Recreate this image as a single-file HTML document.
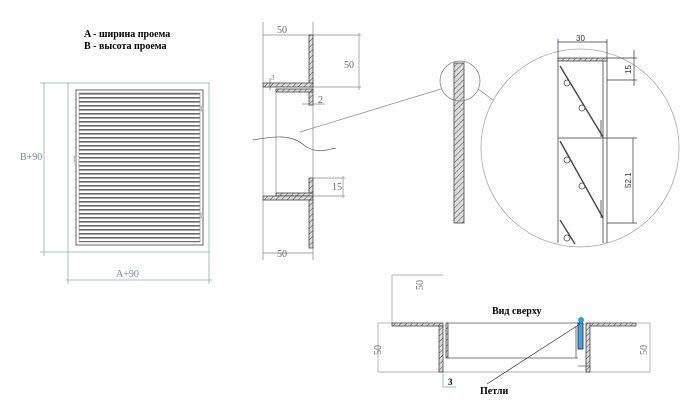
<!DOCTYPE html>
<html><head><meta charset="utf-8"><style>html,body{margin:0;padding:0;background:#fff}svg{display:block}</style></head><body>
<svg width="700" height="404" viewBox="0 0 700 404" xmlns="http://www.w3.org/2000/svg" font-family="Liberation Serif, serif">
<defs>
<pattern id="sl" x="0" y="93" width="10" height="4" patternUnits="userSpaceOnUse"><rect width="10" height="4" fill="#fff"/><rect y="0" width="10" height="1.6" fill="#666"/></pattern>
<pattern id="ht" width="4" height="4" patternUnits="userSpaceOnUse" patternTransform="rotate(45)"><rect width="4" height="4" fill="#ddd"/><line x1="0" y1="0" x2="0" y2="4" stroke="#444" stroke-width="1"/></pattern>
</defs>
<text x="84" y="37" font-size="10" font-weight="bold">A - ширина проема</text>
<text x="84" y="49" font-size="10" font-weight="bold">B - высота проема</text>
<g fill="none" stroke="#9aa" stroke-width="0.8">
<line x1="44" y1="83" x2="44" y2="256"/><line x1="40" y1="83" x2="210" y2="83"/><line x1="40" y1="252" x2="210" y2="252"/>
<line x1="68" y1="83" x2="68" y2="284"/><line x1="209" y1="83" x2="209" y2="284"/><line x1="66" y1="280" x2="212" y2="280"/>
</g>
<rect x="76" y="90" width="127" height="155" fill="#fff" stroke="#666" stroke-width="1"/>
<rect x="79" y="93" width="121" height="149" fill="url(#sl)" stroke="#888" stroke-width="0.6"/>
<rect x="201" y="106" width="2" height="5" fill="#ccc" stroke="#888" stroke-width="0.4"/>
<rect x="201" y="213" width="2" height="5" fill="#ccc" stroke="#888" stroke-width="0.4"/>
<rect x="74" y="156" width="2" height="6" fill="#ccc" stroke="#888" stroke-width="0.4"/>
<text x="20" y="160" font-size="10" fill="#6d8aa8">B+90</text>
<text x="116" y="277" font-size="10" fill="#6d8aa8">A+90</text>
<g fill="none" stroke="#888" stroke-width="0.7">
<line x1="263" y1="22" x2="263" y2="260"/><line x1="313" y1="22" x2="313" y2="260"/>
<line x1="263" y1="35" x2="313" y2="35"/>
<line x1="313" y1="35" x2="361" y2="35"/><line x1="313" y1="87" x2="361" y2="87"/><line x1="359" y1="33" x2="359" y2="90"/>
<line x1="263" y1="253" x2="313" y2="253"/>
<line x1="276" y1="92" x2="276" y2="194"/>
<line x1="313" y1="178" x2="345" y2="178"/><line x1="313" y1="196" x2="345" y2="196"/><line x1="343" y1="176" x2="343" y2="198"/>
<line x1="302" y1="104" x2="325" y2="104"/>
<line x1="300" y1="132" x2="441" y2="89"/>
<path d="M253 140 C275 136 292 134 305 146 C318 154 325 150 336 148" stroke="#555"/>
</g>
<g fill="url(#ht)" stroke="#444" stroke-width="0.8">
<rect x="309" y="35" width="4" height="52"/><rect x="263" y="83" width="50" height="4"/>
<rect x="276" y="89" width="37" height="3"/><rect x="309" y="92" width="4" height="13"/>
<rect x="309" y="178" width="4" height="16"/><rect x="276" y="193" width="37" height="3"/>
<rect x="263" y="196" width="50" height="4"/><rect x="309" y="200" width="4" height="48"/>
</g>
<line x1="270" y1="78" x2="270" y2="90" stroke="#555" stroke-width="0.6"/>
<text x="271" y="80" font-size="7" fill="#777">3</text>
<g font-size="10" fill="#666"><text x="277" y="33">50</text><text x="344" y="68">50</text><text x="318" y="103">2</text><text x="332" y="190">15</text><text x="277" y="257">50</text></g>
<rect x="454" y="63" width="10" height="160" fill="url(#ht)" stroke="#444" stroke-width="0.8"/>
<circle cx="460" cy="81" r="20" fill="none" stroke="#777" stroke-width="0.7"/>
<line x1="478" y1="89" x2="493" y2="100" stroke="#777" stroke-width="0.7"/>
<circle cx="580" cy="148" r="99" fill="none" stroke="#aaa" stroke-width="0.8"/>
<g stroke="#444" stroke-width="0.8" fill="none">
<line x1="558" y1="58" x2="558" y2="243"/><line x1="603" y1="61" x2="603" y2="243"/><line x1="607" y1="58" x2="607" y2="243"/>
<rect x="558" y="58" width="49" height="3" fill="url(#ht)"/>
<line x1="560" y1="66" x2="603" y2="137" stroke-width="1.4"/>
<line x1="560" y1="141" x2="603" y2="218" stroke-width="1.4"/>
<line x1="560" y1="220" x2="575" y2="244" stroke-width="1.4"/>
<circle cx="567" cy="83" r="3"/><circle cx="582" cy="108" r="3"/><circle cx="567" cy="160" r="3"/><circle cx="582" cy="186" r="3"/><circle cx="567" cy="238" r="3"/>
<line x1="601" y1="120" x2="601" y2="137"/><line x1="601" y1="200" x2="601" y2="218"/>
</g>
<g stroke="#335" stroke-width="0.7" fill="none">
<line x1="558" y1="42" x2="607" y2="42"/><line x1="558" y1="39" x2="558" y2="58"/><line x1="607" y1="39" x2="607" y2="58"/>
<line x1="607" y1="58" x2="637" y2="58"/><line x1="607" y1="80" x2="637" y2="80"/><line x1="634" y1="50" x2="634" y2="86"/>
<line x1="558" y1="138" x2="637" y2="138"/><line x1="607" y1="223" x2="637" y2="223"/><line x1="633" y1="138" x2="633" y2="223"/>
</g>
<text x="576" y="41" font-size="8" fill="#333" font-family="Liberation Sans, sans-serif">30</text>
<text transform="translate(631,74) rotate(-90)" font-size="8" fill="#333" font-family="Liberation Sans, sans-serif">15</text>
<text transform="translate(631,188) rotate(-90)" font-size="8" fill="#333" font-family="Liberation Sans, sans-serif">52.1</text>
<g fill="none" stroke="#999" stroke-width="0.7">
<line x1="392" y1="275" x2="443" y2="275"/><line x1="392" y1="275" x2="392" y2="323"/>
<line x1="378" y1="323" x2="378" y2="372"/><line x1="378" y1="372" x2="650" y2="372"/><line x1="650" y1="323" x2="650" y2="372"/>
<line x1="378" y1="323" x2="392" y2="323"/><line x1="636" y1="323" x2="650" y2="323"/>
</g>
<g fill="url(#ht)" stroke="#444" stroke-width="0.8">
<rect x="392" y="323" width="51" height="3"/><rect x="439" y="326" width="4" height="46"/>
<rect x="590" y="323" width="46" height="3"/><rect x="586" y="323" width="4" height="49"/>
<rect x="446" y="323" width="2" height="35"/>
</g>
<line x1="446" y1="323" x2="580" y2="323" stroke="#555" stroke-width="0.8"/>
<line x1="446" y1="358" x2="578" y2="358" stroke="#555" stroke-width="0.8"/>
<line x1="576" y1="326" x2="576" y2="358" stroke="#555" stroke-width="0.8"/>
<rect x="578" y="323" width="5" height="26" fill="#4aa3d8" stroke="#223" stroke-width="0.8"/>
<circle cx="581" cy="320" r="3" fill="#2aa0e0"/>
<line x1="487" y1="384" x2="580" y2="324" stroke="#333" stroke-width="0.7"/>
<line x1="443" y1="372" x2="443" y2="387" stroke="#7ac" stroke-width="0.8"/><line x1="443" y1="387" x2="456" y2="387" stroke="#7ac" stroke-width="0.8"/>
<line x1="578" y1="366" x2="590" y2="366" stroke="#333" stroke-width="0.6"/>
<text x="448" y="385" font-size="9" font-weight="bold">3</text>
<text x="492" y="314" font-size="10" font-weight="bold">Вид сверху</text>
<text x="480" y="394" font-size="10" font-weight="bold">Петли</text>
<g font-size="10" fill="#777">
<text transform="translate(423,290) rotate(-90)">50</text>
<text transform="translate(381,355) rotate(-90)">50</text>
<text transform="translate(647,355) rotate(-90)">50</text>
</g>
</svg>
</body></html>
